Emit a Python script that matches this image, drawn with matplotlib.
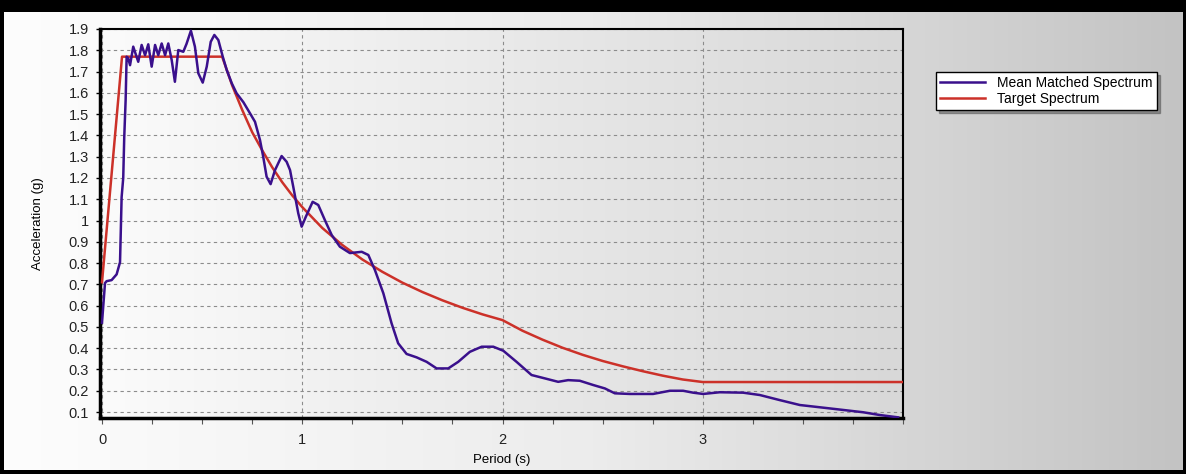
import matplotlib
matplotlib.use("Agg")
import matplotlib.pyplot as plt
import numpy as np
from matplotlib.colors import LinearSegmentedColormap

plt.rcParams["font.family"] = ["Liberation Sans", "DejaVu Sans"]

# target spectrum
target_period = [0.0, 0.1, 0.6, 0.65, 0.7, 0.75, 0.8, 0.85, 0.9, 0.95, 1.0, 1.1, 1.2, 1.3, 1.4,
                 1.5, 1.6, 1.7, 1.8, 1.9, 2.0, 2.1, 2.2, 2.3, 2.4, 2.5, 2.6, 2.7, 2.8, 2.9, 3.0, 4.0]
target_accel = [0.71, 1.77, 1.77, 1.635, 1.52, 1.415, 1.33, 1.25, 1.18, 1.118, 1.063, 0.965,
                0.885, 0.817, 0.759, 0.708, 0.664, 0.625, 0.59, 0.559, 0.532, 0.482, 0.44,
                0.402, 0.369, 0.34, 0.315, 0.292, 0.271, 0.253, 0.241, 0.241]

# mean matched spectrum
mean_period = [0.0, 0.015, 0.023, 0.048, 0.073, 0.09, 0.098, 0.106, 0.111, 0.118, 0.123, 0.131,
               0.14, 0.156, 0.17, 0.181, 0.198, 0.215, 0.231, 0.248, 0.265, 0.281, 0.298, 0.315,
               0.331, 0.348, 0.364, 0.381, 0.406, 0.422, 0.444, 0.464, 0.481, 0.503, 0.523, 0.543,
               0.561, 0.581, 0.603, 0.623, 0.648, 0.672, 0.706, 0.739, 0.764, 0.789, 0.805, 0.822,
               0.842, 0.864, 0.897, 0.922, 0.939, 0.955, 0.98, 0.997, 1.018, 1.052, 1.08, 1.113,
               1.147, 1.188, 1.238, 1.297, 1.33, 1.363, 1.405, 1.446, 1.479, 1.521, 1.571, 1.621,
               1.671, 1.729, 1.779, 1.837, 1.896, 1.954, 2.004, 2.07, 2.145, 2.212, 2.278, 2.328,
               2.386, 2.453, 2.511, 2.561, 2.636, 2.752, 2.836, 2.902, 2.952, 3.002, 3.085, 3.202,
               3.285, 3.385, 3.485, 3.635, 3.801, 3.884, 3.976]
mean_accel = [0.52, 0.706, 0.715, 0.72, 0.747, 0.804, 1.11, 1.2, 1.39, 1.566, 1.77, 1.762,
              1.73, 1.817, 1.777, 1.746, 1.825, 1.777, 1.828, 1.723, 1.825, 1.777, 1.832, 1.777,
              1.832, 1.754, 1.652, 1.801, 1.793, 1.83, 1.892, 1.817, 1.692, 1.648, 1.723, 1.84,
              1.872, 1.848, 1.77, 1.707, 1.645, 1.598, 1.556, 1.504, 1.464, 1.378, 1.3, 1.206,
              1.171, 1.237, 1.303, 1.276, 1.237, 1.159, 1.034, 0.971, 1.018, 1.088, 1.073, 1.002,
              0.932, 0.877, 0.847, 0.853, 0.838, 0.767, 0.658, 0.517, 0.423, 0.373, 0.357, 0.336,
              0.305, 0.305, 0.336, 0.383, 0.407, 0.407, 0.388, 0.336, 0.274, 0.258, 0.242, 0.25,
              0.247, 0.227, 0.211, 0.188, 0.185, 0.185, 0.2, 0.2, 0.191, 0.185, 0.193, 0.191,
              0.18, 0.156, 0.133, 0.117, 0.099, 0.086, 0.075]

y_ticks = [0.1, 0.2, 0.3, 0.4, 0.5, 0.6, 0.7, 0.8, 0.9, 1.0, 1.1, 1.2, 1.3, 1.4, 1.5, 1.6, 1.7, 1.8, 1.9]
y_labels = ["0.1", "0.2", "0.3", "0.4", "0.5", "0.6", "0.7", "0.8", "0.9", "1",
            "1.1", "1.2", "1.3", "1.4", "1.5", "1.6", "1.7", "1.8", "1.9"]
x_ticks = [0, 1, 2, 3]
x_labels = ["0", "1", "2", "3"]

W, H = 1186, 474
fig = plt.figure(figsize=(W / 100, H / 100), dpi=100)
fig.patch.set_facecolor("black")

# grey panel with horizontal gradient
bg = fig.add_axes([4 / W, 4 / H, 1179 / W, 458 / H])
bg_cmap = LinearSegmentedColormap.from_list("bg", ["#fdfdfd", "#ececec", "#c3c3c3"])
bg.imshow(np.linspace(0, 1, 256)[None, :], cmap=bg_cmap, aspect="auto", extent=[0, 1, 0, 1])
bg.set_axis_off()

ax = fig.add_axes([100 / W, 1 - 418 / H, 803 / W, 389 / H])
ax_cmap = LinearSegmentedColormap.from_list("ax", ["#fbfbfb", "#d8d8d8"])
ax.imshow(np.linspace(0, 1, 256)[None, :], cmap=ax_cmap, aspect="auto",
          extent=[0, 1, 0, 1], transform=ax.transAxes, zorder=0)

purple = "#3a108c"
red = "#cc3129"
ax.plot(mean_period, mean_accel, color=purple, lw=1.8, label="Mean Matched Spectrum", zorder=4)
ax.plot(target_period, target_accel, color=red, lw=1.8, label="Target Spectrum", zorder=3)

ax.set_xlim(-0.01, 4.0)
ax.set_ylim(0.072, 1.9)
ax.set_yticks(y_ticks)
ax.set_yticklabels(y_labels)
ax.set_xticks(x_ticks)
ax.set_xticklabels(x_labels)
ax.set_xticks(np.arange(0, 4.01, 0.25), minor=True)
ax.tick_params(axis="both", labelsize=10.5, colors="black", direction="out")
ax.tick_params(axis="y", length=3, width=1, pad=5, labelcolor="#222222")
ax.tick_params(axis="x", which="both", length=4, width=0.8, pad=7, colors="#555555",
               labelcolor="#222222")

ax.grid(True, which="major", color="#8c8c8c", linestyle=(0, (3, 3)), lw=0.8, zorder=1)
ax.set_axisbelow(True)

for side in ["left", "bottom"]:
    ax.spines[side].set_linewidth(2.5)
for side in ["top", "right"]:
    ax.spines[side].set_linewidth(1.5)

ax.set_xlabel("Period (s)", fontsize=9.5, labelpad=5)
ax.set_ylabel("Acceleration (g)", fontsize=9.5, labelpad=18)

leg = ax.legend(loc="upper left", bbox_to_anchor=(936 / W, 1 - 72 / H), bbox_transform=fig.transFigure,
                fontsize=10, frameon=True, fancybox=False, shadow=True, borderpad=0.3,
                handlelength=3.2, handletextpad=0.9, labelspacing=0.1, borderaxespad=0)
leg.get_frame().set_edgecolor("black")
leg.get_frame().set_linewidth(1.0)

fig.savefig("out.png", dpi=100, facecolor=fig.get_facecolor())
